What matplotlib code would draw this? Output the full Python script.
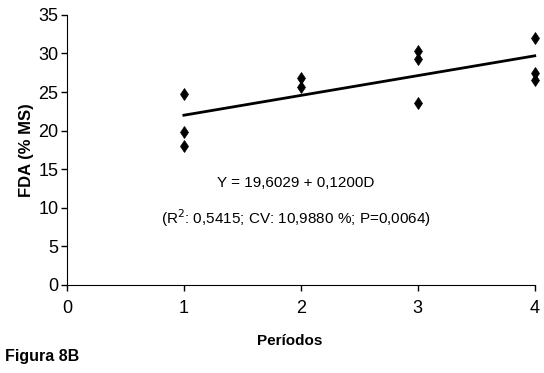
import matplotlib.pyplot as plt
import numpy as np

plt.rcParams['font.family'] = ['Liberation Sans', 'DejaVu Sans']

# Observed values per period
periodos = [1, 1, 1, 2, 2, 3, 3, 3, 4, 4, 4]
fda = [24.7, 19.8, 18.0, 26.8, 25.7, 30.3, 29.3, 23.6, 32.0, 27.5, 26.6]

# Fitted line end points
linha_x = [1, 4]
linha_y = [22.0, 29.7]

xticks = [0, 1, 2, 3, 4]
yticks = [0, 5, 10, 15, 20, 25, 30, 35]

fig = plt.figure(figsize=(5.44, 3.73), dpi=100)
ax = fig.add_axes([0.123, 0.236, 0.860, 0.724])

ax.plot(periodos, fda, 'd', color='black', markersize=6, markeredgewidth=0.5,
        clip_on=False)
ax.plot(linha_x, linha_y, color='black', linewidth=2, clip_on=False)

ax.set_xlim(0, 4)
ax.set_ylim(0, 35)
ax.set_xticks(xticks)
ax.set_yticks(yticks)
ax.tick_params(axis='both', labelsize=13, length=4, width=1, direction='out')
ax.tick_params(axis='x', pad=7)
ax.tick_params(axis='y', pad=2)
ax.spines['top'].set_visible(False)
ax.spines['right'].set_visible(False)

ax.set_ylabel('FDA (% MS)', fontsize=12, fontweight='bold', labelpad=3)
ax.set_xlabel('Períodos', fontsize=11, fontweight='bold', labelpad=14)
ax.xaxis.set_label_coords(0.477, -0.18)

ax.text(1.96, 13.2, 'Y = 19,6029 + 0,1200D', fontsize=11, ha='center', va='center')
ax.text(1.96, 8.7, '(R$^2$: 0,5415; CV: 10,9880 %; P=0,0064)', fontsize=11,
        ha='center', va='center')

fig.text(0.009, 0.043, 'Figura 8B', fontsize=11.5, fontweight='bold', ha='left', va='center')

fig.savefig('out.png', dpi=100)
